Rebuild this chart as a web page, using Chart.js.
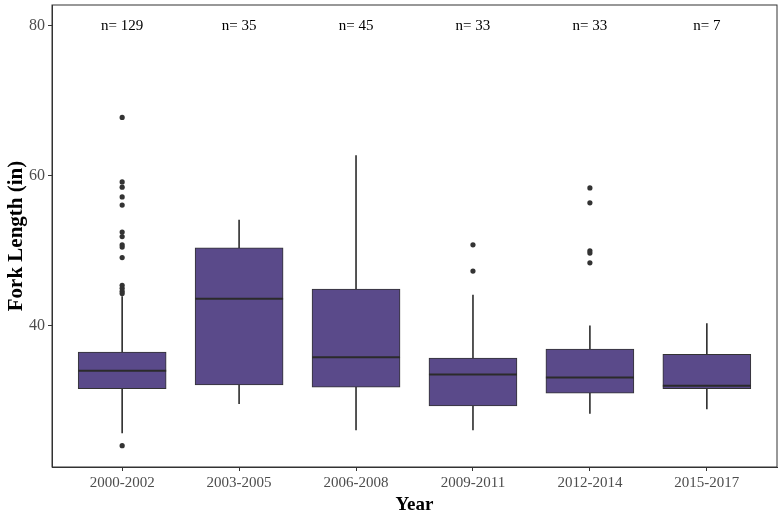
<!DOCTYPE html>
<html>
<head>
<meta charset="utf-8">
<script src="https://cdn.jsdelivr.net/npm/chart.js@4"></script>
<style>
  body { margin: 0; background: #fff; }
  #wrap { width: 784px; height: 519px; }
</style>
</head>
<body>
<div id="wrap"><canvas id="forkChart"></canvas></div>
<script>
const years = ['2000-2002', '2003-2005', '2006-2008', '2009-2011', '2012-2014', '2015-2017'];
const counts = [129, 35, 45, 33, 33, 7];  // n per group
const whiskerLow = [25.7, 29.6, 26.1, 26.1, 28.3, 28.9];
const q1 = [31.6, 32.1, 31.8, 29.3, 31.0, 31.6];
const median = [34.0, 43.6, 35.8, 33.5, 33.1, 32.0];
const q3 = [36.5, 50.4, 44.9, 35.7, 36.9, 36.2];
const whiskerHigh = [43.9, 54.1, 62.7, 44.1, 40.0, 40.3];
// outliers: group index (1-based) and length
const outlierGroup = [1, 1, 1, 1, 1, 1, 1, 1, 1, 1, 1, 1, 1, 1, 1, 4, 4, 5, 5, 5, 5, 5];
const outlierValue = [67.8, 59.2, 58.5, 57.2, 56.1, 52.5, 51.9, 50.8, 50.5, 49.1, 45.4, 45.0, 44.6, 44.3, 24.0,
                      50.8, 47.3, 58.4, 56.4, 50.0, 49.7, 48.4];
const yTicks = [40, 60, 80];
const labelY = 80;  // where the n= labels sit

const serif = '"Liberation Serif", "Times New Roman", serif';
const boxWidth = 88;

// frame round the plot area
const framePlugin = {
    id: 'frame',
    afterDraw(chart) {
        const a = chart.chartArea, ctx = chart.ctx;
        ctx.save();
        ctx.strokeStyle = '#333';
        ctx.lineWidth = 1;
        ctx.strokeRect(a.left, a.top, a.right - a.left, a.bottom - a.top);
        ctx.restore();
    }
};

// median lines and n= labels
const boxExtras = {
    id: 'boxExtras',
    afterDatasetsDraw(chart) {
        const x = chart.scales.x, y = chart.scales.y, ctx = chart.ctx;
        ctx.save();
        ctx.strokeStyle = '#2b2b2b';
        ctx.lineWidth = 2;
        median.forEach((m, i) => {
            const cx = x.getPixelForValue(i + 1);
            const py = y.getPixelForValue(m);
            ctx.beginPath();
            ctx.moveTo(cx - boxWidth / 2, py);
            ctx.lineTo(cx + boxWidth / 2, py);
            ctx.stroke();
        });
        ctx.fillStyle = '#000';
        ctx.font = '15px ' + serif;
        ctx.textAlign = 'center';
        ctx.textBaseline = 'middle';
        counts.forEach((n, i) => {
            ctx.fillText('n= ' + n, x.getPixelForValue(i + 1), y.getPixelForValue(labelY));
        });
        ctx.restore();
    }
};

document.addEventListener('DOMContentLoaded', function () {
    const ctx = document.getElementById('forkChart').getContext('2d');
    new Chart(ctx, {
        type: 'bar',
        data: {
            datasets: [
                {
                    type: 'scatter',
                    data: outlierValue.map((v, i) => ({ x: outlierGroup[i], y: v })),
                    backgroundColor: '#333',
                    borderWidth: 0,
                    pointRadius: 2.6
                },
                {
                    data: years.map((c, i) => ({ x: i + 1, y: [q1[i], q3[i]] })),
                    backgroundColor: '#5a4a8a',
                    borderColor: '#333',
                    borderWidth: 1,
                    borderSkipped: false,
                    barThickness: boxWidth,
                    grouped: false
                },
                {
                    data: years.map((c, i) => ({ x: i + 1, y: [whiskerLow[i], whiskerHigh[i]] })),
                    backgroundColor: '#333',
                    borderWidth: 0,
                    barThickness: 1,
                    grouped: false
                }
            ]
        },
        options: {
            responsive: true,
            maintainAspectRatio: false,
            animation: false,
            layout: { padding: { top: 5, right: 7, left: 0, bottom: 0 } },
            plugins: { legend: { display: false }, tooltip: { enabled: false } },
            scales: {
                x: {
                    type: 'linear',
                    min: 0.4,
                    max: 6.6,
                    offset: false,
                    afterBuildTicks: axis => { axis.ticks = years.map((c, i) => ({ value: i + 1 })); },
                    afterFit: axis => { axis.height = 52; axis.paddingLeft = 0; axis.paddingRight = 0; },
                    grid: { offset: false, drawOnChartArea: false, drawTicks: true, tickLength: 4, color: '#333' },
                    border: { display: true, color: '#333' },
                    ticks: {
                        autoSkip: false,
                        maxRotation: 0,
                        padding: 3,
                        color: '#4d4d4d',
                        font: { family: serif, size: 15 },
                        callback: v => years[v - 1]
                    },
                    title: {
                        display: true,
                        text: 'Year',
                        color: '#000',
                        padding: { top: 0, bottom: 3 },
                        font: { family: serif, size: 19, weight: 'bold' }
                    }
                },
                y: {
                    min: 21.16,
                    max: 82.8,
                    afterBuildTicks: axis => { axis.ticks = yTicks.map(v => ({ value: v })); },
                    afterFit: axis => { axis.width = 52; axis.paddingTop = 0; axis.paddingBottom = 0; },
                    grid: { drawOnChartArea: false, drawTicks: true, tickLength: 4, color: '#333' },
                    border: { display: true, color: '#333' },
                    ticks: {
                        padding: 3,
                        color: '#4d4d4d',
                        font: { family: serif, size: 16 }
                    },
                    title: {
                        display: true,
                        text: 'Fork Length (in)',
                        color: '#000',
                        padding: { top: 4, bottom: 0 },
                        font: { family: serif, size: 21, weight: 'bold' }
                    }
                }
            }
        },
        plugins: [framePlugin, boxExtras]
    });
});
</script>
</body>
</html>
